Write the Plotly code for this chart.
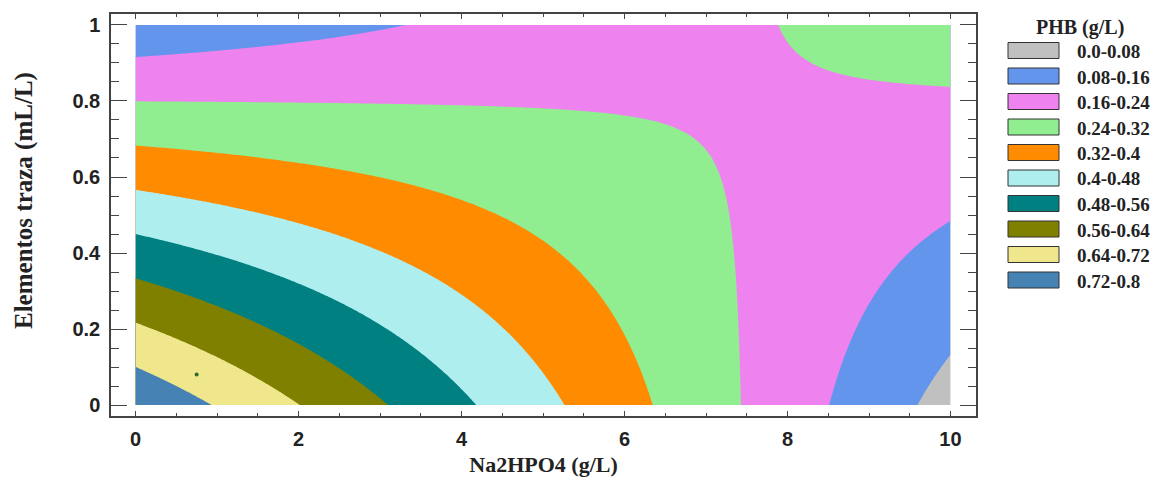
import numpy as np
import plotly.graph_objects as go

# Fitted response-surface model for PHB (g/L)
# PHB = b0 + b1*Na2HPO4 + b2*traza + b12*Na2HPO4*traza
model_terms = ["const", "Na2HPO4", "traza", "Na2HPO4*traza"]
model_coefs = [0.789, -0.0739, -0.687, 0.0914]

# Experimental domain of the two factors
na2hpo4_limits = [0.0, 10.0]
traza_limits = [0.0, 1.0]

# Contour bands
level_start, level_end, level_step = 0.0, 0.8, 0.08
band_labels = ["0.0-0.08", "0.08-0.16", "0.16-0.24", "0.24-0.32", "0.32-0.4",
               "0.4-0.48", "0.48-0.56", "0.56-0.64", "0.64-0.72", "0.72-0.8"]
band_colors = ["#C0C0C0", "#6495ED", "#EE82EE", "#90EE90", "#FF8C00",
               "#AFEEEE", "#008080", "#808000", "#F0E68C", "#4682B4"]

# Marked point on the surface
point_x = [0.75]
point_y = [0.08]

# ---- surface grid ----
xs = np.linspace(na2hpo4_limits[0], na2hpo4_limits[1], 401)
ys = np.linspace(traza_limits[0], traza_limits[1], 201)
X, Y = np.meshgrid(xs, ys)
b0, b1, b2, b12 = model_coefs
Z = b0 + b1 * X + b2 * Y + b12 * X * Y

# Step colorscale: in fill mode plotly samples band k at (k+1)/(n_levels)
n_levels = int(round((level_end - level_start) / level_step)) + 1
span = n_levels  # nc + extra - 1
edges = [(k + 0.5) / span for k in range(n_levels)]
colorscale = [[0.0, band_colors[0]]]
for k, c in enumerate(band_colors):
    colorscale.append([edges[k], c])
    colorscale.append([edges[k + 1], c])
colorscale.append([1.0, band_colors[-1]])

fig = go.Figure()
fig.add_trace(go.Contour(
    x=xs, y=ys, z=Z,
    autocontour=False,
    contours=dict(start=level_start, end=level_end, size=level_step,
                  coloring="fill", showlines=False),
    line=dict(width=0),
    colorscale=colorscale,
    showscale=False,
    hoverinfo="skip",
))
fig.add_trace(go.Scatter(
    x=point_x, y=point_y, mode="markers",
    marker=dict(size=4, color="#2E6B2E"),
    showlegend=False, hoverinfo="skip",
))

# ---- page geometry ----
W, H = 1165, 478
ML, MR, MT, MB = 111, 189, 14, 62


def fx(p):
    return (p - ML) / (W - ML - MR)


def fy(p):
    return (H - MB - p) / (H - MT - MB)


axis_color = "#444444"
tick_font = dict(family="Liberation Sans", size=20, color="#222222", weight="bold")
title_font = dict(family="Liberation Serif", color="#222222", weight="bold")

fig.update_xaxes(
    range=[-0.301, 10.313], tick0=0, dtick=2, automargin=False,
    ticks="inside", ticklen=5, tickwidth=1, tickcolor=axis_color,
    minor=dict(dtick=0.5, ticks="inside", ticklen=3, tickwidth=1, tickcolor=axis_color),
    showline=True, linecolor=axis_color, linewidth=1.5, mirror="allticks",
    showgrid=False, zeroline=False, tickfont=tick_font, ticklabelstandoff=4,
    title=dict(text="Na2HPO4 (g/L)", font=dict(size=22, **title_font), standoff=8),
)
fig.update_yaxes(
    range=[-0.0289, 1.0289], tick0=0, dtick=0.2, automargin=False,
    ticks="inside", ticklen=16, tickwidth=1, tickcolor=axis_color,
    minor=dict(dtick=0.05, ticks="inside", ticklen=8, tickwidth=1, tickcolor=axis_color),
    showline=True, linecolor=axis_color, linewidth=1.5, mirror="allticks",
    showgrid=False, zeroline=False, tickfont=tick_font, ticklabelstandoff=5,
)

# ---- y-axis title and band key ----
shapes = []
annotations = [
    dict(
        x=fx(24), y=fy(201), xref="paper", yref="paper",
        text="Elementos traza (mL/L)", textangle=-90, showarrow=False,
        xanchor="center", yanchor="middle",
        font=dict(size=25, **title_font),
    ),
    dict(
        x=fx(1080), y=fy(28), xref="paper", yref="paper",
        text="PHB (g/L)", showarrow=False, xanchor="center", yanchor="middle",
        font=dict(size=20, **title_font),
    ),
]
for k, (lab, col) in enumerate(zip(band_labels, band_colors)):
    cy = 50.5 + 25.5 * k
    shapes.append(dict(
        type="rect", xref="paper", yref="paper",
        x0=fx(1008), x1=fx(1059), y0=fy(cy + 8), y1=fy(cy - 8),
        fillcolor=col, line=dict(color="#333333", width=1),
    ))
    annotations.append(dict(
        x=fx(1075), y=fy(cy + 1), xref="paper", yref="paper",
        text=lab, showarrow=False, xanchor="left", yanchor="middle",
        font=dict(size=19, **title_font),
    ))

fig.update_layout(
    width=W, height=H,
    margin=dict(l=ML, r=MR, t=MT, b=MB, autoexpand=False),
    paper_bgcolor="white", plot_bgcolor="white",
    showlegend=False,
    shapes=shapes, annotations=annotations,
)

fig.write_html("out.html")
